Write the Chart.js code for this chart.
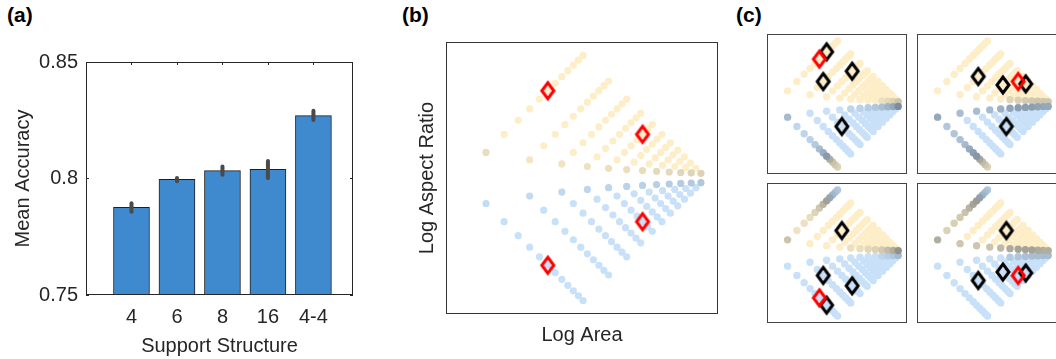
<!DOCTYPE html>
<html>
<head>
<meta charset="utf-8">
<title>Support structure accuracy and shape space</title>
<script src="https://cdn.jsdelivr.net/npm/chart.js"></script>
<style>
  html, body { margin: 0; padding: 0; background: #fff; }
  body { position: relative; width: 1056px; height: 359px; overflow: hidden; font-family: "Liberation Sans", Arial, sans-serif; }
  canvas { position: absolute; }
  .tag { position: absolute; font-size: 21px; font-weight: bold; line-height: 24px; color: #000; }
</style>
</head>
<body>
<div class="tag" style="left:7px;top:3px">(a)</div>
<div class="tag" style="left:402px;top:3px">(b)</div>
<div class="tag" style="left:736px;top:3px">(c)</div>
<canvas id="barChart" width="370" height="359" style="left:0;top:0"></canvas>
<canvas id="shapeChart" width="330" height="359" style="left:400px;top:0"></canvas>
<canvas id="c1" width="144" height="144" style="left:765px;top:32px"></canvas>
<canvas id="c2" width="144" height="144" style="left:915px;top:32px"></canvas>
<canvas id="c3" width="144" height="144" style="left:765px;top:181px"></canvas>
<canvas id="c4" width="144" height="144" style="left:915px;top:181px"></canvas>
<script>
// (a) mean accuracy per support structure, with error bar ends
var structures = ['4', '6', '8', '16', '4-4'];
var meanAccuracy = [0.7876, 0.7996, 0.8034, 0.8039, 0.8270];
var accLow = [0.7857, 0.7988, 0.8016, 0.8002, 0.8251];
var accHigh = [0.7894, 0.8002, 0.8051, 0.8075, 0.8291];
var accuracyTicks = [0.75, 0.8, 0.85];

// (b), (c) rectangle shapes, width x height (squares not used)
var widths = [2, 3, 4, 5, 6, 7, 8, 9, 10, 11, 12, 13, 14];
var heights = [2, 3, 4, 5, 6, 7, 8, 9, 10, 11, 12, 13, 14];

// support shapes marked in (b), [w, h]
var supportShapes = [[8, 2], [12, 6], [6, 12], [2, 8]];
// (c): one support shape per panel and its four nearest shapes
var panelSupport = [[8, 2], [12, 6], [2, 8], [6, 12]];
var panelNeighbours = [
  [[10, 2], [6, 3], [11, 4], [4, 8]],
  [[7, 3], [9, 5], [13, 7], [5, 10]],
  [[8, 4], [3, 6], [4, 11], [2, 10]],
  [[10, 5], [3, 7], [5, 9], [7, 13]]
];

Chart.defaults.font.family = '"Liberation Sans", Arial, sans-serif';
Chart.defaults.color = '#262626';

var shapes = [];
widths.forEach(function (w) {
  heights.forEach(function (h) {
    if (w !== h) shapes.push([w, h]);
  });
});
// log area on x, log aspect ratio on y (log scales do the log)
function toPoint(s) { return { x: s[0] * s[1], y: s[0] / s[1] }; }

// colours: pale yellow for wide, pale blue for tall, darkened where the model is unsure
var YELLOW = [253, 238, 200];
var BLUE = [200, 225, 249];
var SLATE = [86, 96, 108];
function tint(hue, s) {
  var base = hue === 'y' ? YELLOW : BLUE;
  return 'rgb(' + base.map(function (c, i) { return Math.round(c + (SLATE[i] - c) * s); }).join(',') + ')';
}

function shadeB(w, h) {
  var hue = w > h ? 'y' : 'b';
  if (w === 3 && h === 2) return [hue, 0.12];
  if (Math.abs(w - h) === 1) return [hue, 0.04 + 0.16 * (Math.min(w, h) - 2) / 11];
  return [hue, 0];
}

var shadeC1 = [
  [2, 3, 'b', 0.3], [2, 4, 'b', 0.08], [2, 5, 'b', 0.1], [2, 6, 'b', 0.12], [2, 7, 'b', 0.18],
  [2, 8, 'b', 0.28], [2, 9, 'b', 0.4], [2, 10, 'b', 0.55], [2, 11, 'y', 0.45], [2, 12, 'y', 0.32],
  [2, 13, 'y', 0.25], [2, 14, 'y', 0.2],
  [6, 7, 'b', 0.1], [7, 8, 'b', 0.12], [8, 9, 'b', 0.16], [9, 10, 'b', 0.2], [10, 11, 'b', 0.26],
  [11, 12, 'b', 0.35], [12, 13, 'b', 0.45], [13, 14, 'b', 0.65],
  [11, 10, 'y', 0.1], [12, 11, 'y', 0.15], [13, 12, 'y', 0.2], [14, 13, 'y', 0.3]
];
var shadeC2 = [
  [2, 3, 'b', 0.45], [2, 4, 'b', 0.2], [2, 5, 'b', 0.22], [2, 6, 'b', 0.25], [2, 7, 'b', 0.3],
  [2, 8, 'b', 0.42], [2, 9, 'b', 0.52], [2, 10, 'b', 0.58], [2, 11, 'y', 0.5], [2, 12, 'y', 0.36],
  [2, 13, 'y', 0.28], [2, 14, 'y', 0.2],
  [3, 4, 'b', 0.28], [4, 5, 'b', 0.28], [5, 6, 'b', 0.3], [6, 7, 'b', 0.38], [7, 8, 'b', 0.48],
  [8, 9, 'b', 0.52], [9, 10, 'b', 0.52], [10, 11, 'b', 0.52], [11, 12, 'b', 0.48], [12, 13, 'b', 0.45],
  [13, 14, 'b', 0.45],
  [8, 7, 'y', 0.18], [9, 8, 'y', 0.22], [10, 9, 'y', 0.25], [11, 10, 'y', 0.27], [12, 11, 'y', 0.28],
  [13, 12, 'y', 0.28], [14, 13, 'y', 0.28]
];
function mirror(t) {
  return t.map(function (r) { return [r[1], r[0], r[2] === 'y' ? 'b' : 'y', r[3]]; });
}
var panelShades = [shadeC1, shadeC2, mirror(shadeC1), mirror(shadeC2)];

function tableLookup(table) {
  return function (w, h) {
    for (var i = 0; i < table.length; i++) {
      if (table[i][0] === w && table[i][1] === h) return [table[i][2], table[i][3]];
    }
    return [w > h ? 'y' : 'b', 0];
  };
}

function shapeLayer(lookup) {
  var items = shapes.map(function (s) {
    var hit = lookup(s[0], s[1]);
    return { p: toPoint(s), c: tint(hit[0], hit[1]), s: hit[1] };
  });
  items.sort(function (a, b) { return a.s - b.s; }); // darker dots on top
  return { data: items.map(function (i) { return i.p; }), colors: items.map(function (i) { return i.c; }) };
}

function diamondImage(color) {
  var c = document.createElement('canvas');
  c.width = 18; c.height = 24;
  var g = c.getContext('2d');
  g.strokeStyle = color; g.lineWidth = 3; g.lineJoin = 'miter';
  g.beginPath();
  g.moveTo(9, 4); g.lineTo(15, 12); g.lineTo(9, 20); g.lineTo(3, 12);
  g.closePath(); g.stroke();
  return c;
}
var redDiamond = diamondImage('#ff0000');
var blackDiamond = diamondImage('#000000');

var framePlugin = {
  id: 'frame',
  afterDraw: function (chart, args, opts) {
    var a = chart.chartArea, g = chart.ctx;
    g.save();
    g.strokeStyle = opts.color || '#262626';
    g.lineWidth = 1;
    g.strokeRect(Math.round(a.left) + 0.5, Math.round(a.top) + 0.5,
      Math.round(a.right - a.left) - 1, Math.round(a.bottom - a.top) - 1);
    g.restore();
  }
};

var errorBarPlugin = {
  id: 'errorBars',
  afterDatasetsDraw: function (chart) {
    var x = chart.scales.x, y = chart.scales.y, g = chart.ctx;
    g.save();
    g.strokeStyle = '#4a4a4a'; g.lineWidth = 4; g.lineCap = 'round';
    accLow.forEach(function (lo, i) {
      var px = x.getPixelForValue(i + 1);
      g.beginPath();
      g.moveTo(px, y.getPixelForValue(lo));
      g.lineTo(px, y.getPixelForValue(accHigh[i]));
      g.stroke();
    });
    g.restore();
  }
};

var tickMarkPlugin = {
  id: 'tickMarks',
  afterDraw: function (chart) {
    var a = chart.chartArea, g = chart.ctx, len = 3;
    var xs = chart.scales.x, ys = chart.scales.y;
    g.save();
    g.strokeStyle = '#262626'; g.lineWidth = 1;
    g.beginPath();
    xs.ticks.forEach(function (t) {
      var px = Math.round(xs.getPixelForValue(t.value)) + 0.5;
      g.moveTo(px, a.top); g.lineTo(px, a.top + len);
    });
    ys.ticks.forEach(function (t) {
      var py = Math.round(ys.getPixelForValue(t.value)) + 0.5;
      g.moveTo(a.left, py); g.lineTo(a.left + len, py);
      g.moveTo(a.right, py); g.lineTo(a.right - len, py);
    });
    g.stroke();
    g.restore();
  }
};

// (a)
new Chart(document.getElementById('barChart'), {
  type: 'bar',
  data: {
    datasets: [{
      data: meanAccuracy.map(function (v, i) { return { x: i + 1, y: v }; }),
      backgroundColor: '#3f89cf',
      borderColor: '#1f1f1f',
      borderWidth: 1,
      barThickness: 36
    }]
  },
  options: {
    responsive: false,
    animation: false,
    events: [],
    layout: { padding: { left: 0, top: 62, right: 17, bottom: 0 } },
    plugins: { legend: { display: false }, tooltip: { enabled: false } },
    scales: {
      x: {
        type: 'linear', min: 0, max: 5.87, offset: false,
        grid: { display: false, drawTicks: false }, border: { display: false },
        afterBuildTicks: function (s) { s.ticks = structures.map(function (_, i) { return { value: i + 1 }; }); },
        ticks: {
          autoSkip: false, maxRotation: 0, padding: 10, font: { size: 20 },
          callback: function (v) { return structures[v - 1]; }
        },
        title: { display: true, text: 'Support Structure', font: { size: 20 }, padding: { top: 0, bottom: 1 } },
        afterFit: function (s) { s.height = 64; }
      },
      y: {
        min: 0.75, max: 0.85,
        grid: { display: false, drawTicks: false }, border: { display: false },
        afterBuildTicks: function (s) { s.ticks = accuracyTicks.map(function (v) { return { value: v }; }); },
        ticks: { padding: 8, font: { size: 20 }, callback: function (v) { return String(v); } },
        title: { display: true, text: 'Mean Accuracy', font: { size: 20 }, padding: { top: 11, bottom: 0 } },
        afterFit: function (s) { s.width = 86; }
      }
    }
  },
  plugins: [framePlugin, errorBarPlugin, tickMarkPlugin]
});

function shapeScales(withTitles) {
  var common = {
    type: 'logarithmic',
    display: withTitles,
    ticks: { display: false },
    grid: { display: false, drawTicks: false },
    border: { display: false }
  };
  var x = Object.assign({}, common, {
    min: 3.18, max: 238.6,
    title: { display: true, text: 'Log Area', font: { size: 20 }, padding: { top: 0, bottom: 12 } }
  });
  var y = Object.assign({}, common, {
    min: 0.1153, max: 8.67,
    title: { display: true, text: 'Log Aspect Ratio', font: { size: 20 }, padding: { top: 15, bottom: 0 } }
  });
  if (withTitles) {
    x.afterFit = function (s) { s.height = 45; };
    y.afterFit = function (s) { s.width = 46; };
  }
  return { x: x, y: y };
}

function markerSet(list, image) {
  return {
    data: list.map(toPoint),
    pointStyle: image,
    pointRadius: 8,
    borderWidth: 0
  };
}

// (b)
var layerB = shapeLayer(shadeB);
new Chart(document.getElementById('shapeChart'), {
  type: 'scatter',
  data: {
    datasets: [
      markerSet(supportShapes, redDiamond),
      { data: layerB.data, pointBackgroundColor: layerB.colors, pointBorderWidth: 0, pointRadius: 3.6 }
    ]
  },
  options: {
    responsive: false,
    animation: false,
    events: [],
    layout: { padding: { left: 0, top: 42, right: 12, bottom: 0 } },
    plugins: { legend: { display: false }, tooltip: { enabled: false }, frame: { color: '#333333' } },
    scales: shapeScales(true)
  },
  plugins: [framePlugin]
});

// (c)
['c1', 'c2', 'c3', 'c4'].forEach(function (id, k) {
  var layer = shapeLayer(tableLookup(panelShades[k]));
  new Chart(document.getElementById(id), {
    type: 'scatter',
    data: {
      datasets: [
        markerSet([panelSupport[k]], redDiamond),
        markerSet(panelNeighbours[k], blackDiamond),
        { data: layer.data, pointBackgroundColor: layer.colors, pointBorderWidth: 0, pointRadius: 3.7 }
      ]
    },
    options: {
      responsive: false,
      animation: false,
      events: [],
      layout: { padding: 2, autoPadding: false },
      plugins: { legend: { display: false }, tooltip: { enabled: false }, frame: { color: '#444444' } },
      scales: shapeScales(false)
    },
    plugins: [framePlugin]
  });
});
</script>
</body>
</html>
